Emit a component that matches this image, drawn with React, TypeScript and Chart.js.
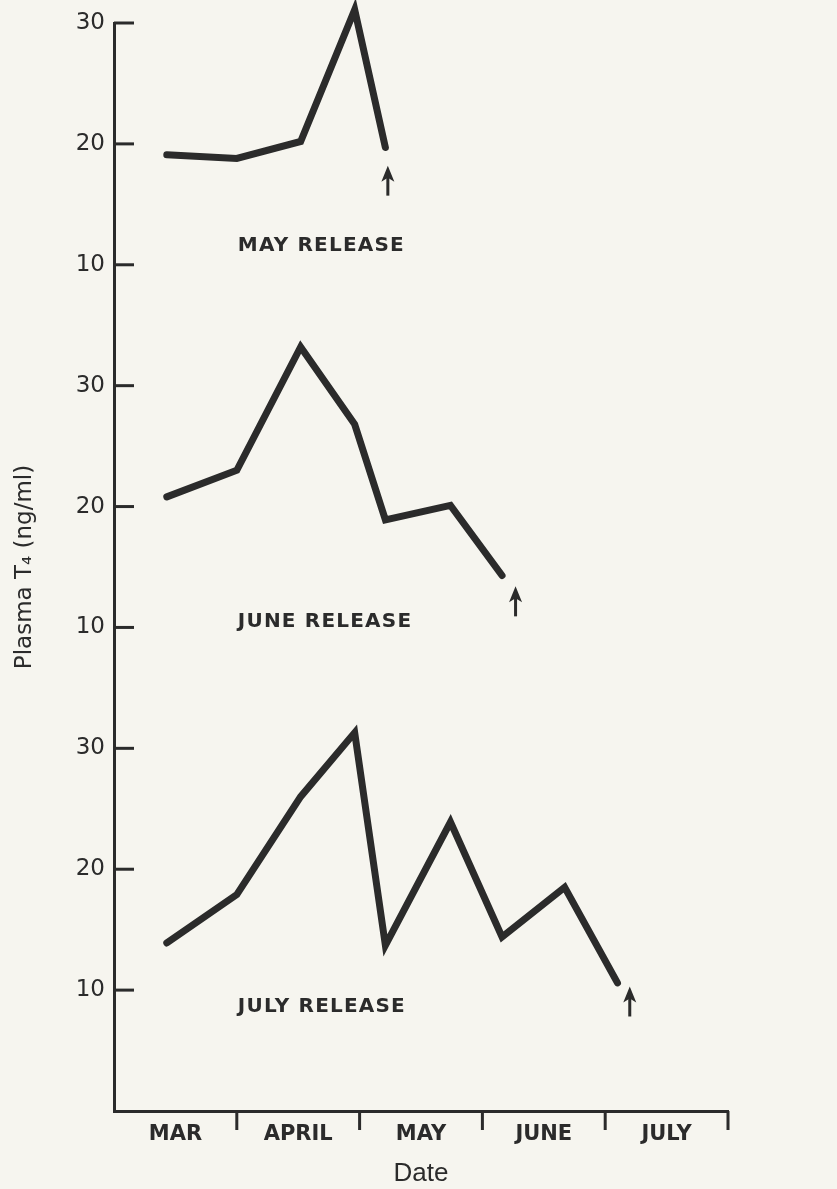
import { useEffect, useRef } from 'react';
import { Chart, registerables } from 'chart.js';

Chart.register(...registerables);

// ---- data ----
const monthLabels = ['MAR', 'APRIL', 'MAY', 'JUNE', 'JULY'];
// sampling dates, expressed in months since 1 March
const sampleMonths = [0.43, 1.0, 1.52, 1.96, 2.21, 2.74, 3.16, 3.67, 4.1];
const mayRelease = [19.1, 18.8, 20.2, 31.1, 19.7];
const juneRelease = [20.8, 23.0, 33.2, 26.8, 18.9, 20.1, 14.3];
const julyRelease = [13.9, 17.9, 26.0, 31.3, 13.7, 23.9, 14.4, 18.5, 10.6];
const groupNames = ['MAY RELEASE', 'JUNE RELEASE', 'JULY RELEASE'];
const groupOffsets = [60, 30, 0]; // stacked panels share one axis
const releaseMonths = [2.23, 3.27, 4.2];
const arrowTipValues = [18.2, 13.4, 10.3];
const labelValues = [11.6, 10.5, 8.6];
const yTickLabels = ['10', '20', '30'];
const yTitle = 'Plasma T\u2084 (ng/ml)';
const xTitle = 'Date';

const INK = '#2b2b2b';
const BG = '#f6f5ef';

const seriesList = [mayRelease, juneRelease, julyRelease];

const decor = {
  id: 'decor',
  beforeDraw(chart: any) {
    const { ctx, width, height } = chart;
    ctx.save();
    ctx.fillStyle = BG;
    ctx.fillRect(0, 0, width, height);
    ctx.restore();
  },
  afterDraw(chart: any) {
    const { ctx, chartArea, scales } = chart;
    const x = scales.x;
    const y = scales.y;
    ctx.save();
    ctx.strokeStyle = INK;
    ctx.fillStyle = INK;
    ctx.lineWidth = 3;
    ctx.lineCap = 'butt';
    // inward tick marks on the value axis
    y.ticks.forEach((t: any) => {
      if (t.value === 0) return;
      const py = y.getPixelForValue(t.value);
      ctx.beginPath();
      ctx.moveTo(chartArea.left, py);
      ctx.lineTo(chartArea.left + 20, py);
      ctx.stroke();
    });
    // month separators below the date axis
    for (let m = 1; m <= monthLabels.length; m++) {
      const px = x.getPixelForValue(m);
      ctx.beginPath();
      ctx.moveTo(px, chartArea.bottom);
      ctx.lineTo(px, chartArea.bottom + 19);
      ctx.stroke();
    }
    // group labels
    ctx.font = 'bold 20px "DejaVu Sans"';
    (ctx as any).letterSpacing = '1.2px';
    ctx.textAlign = 'left';
    ctx.textBaseline = 'middle';
    groupNames.forEach((name, i) => {
      ctx.fillText(name, x.getPixelForValue(1) + 1, y.getPixelForValue(labelValues[i] + groupOffsets[i]));
    });
    (ctx as any).letterSpacing = '0px';
    // release arrows
    releaseMonths.forEach((m, i) => {
      const px = x.getPixelForValue(m);
      const tip = y.getPixelForValue(arrowTipValues[i] + groupOffsets[i]);
      ctx.lineWidth = 3;
      ctx.beginPath();
      ctx.moveTo(px, tip + 8);
      ctx.lineTo(px, tip + 30);
      ctx.stroke();
      ctx.beginPath();
      ctx.moveTo(px, tip);
      ctx.lineTo(px + 6.5, tip + 16);
      ctx.lineTo(px, tip + 12);
      ctx.lineTo(px - 6.5, tip + 16);
      ctx.closePath();
      ctx.fill();
    });
    ctx.restore();
  },
};

export default function App() {
  const canvasRef = useRef<HTMLCanvasElement | null>(null);

  useEffect(() => {
    document.body.style.margin = '0';
    document.body.style.background = BG;
    const canvas = canvasRef.current;
    if (!canvas) return;
    const chart = new Chart(canvas, {
      type: 'line',
      data: {
        datasets: seriesList.map((vals, g) => ({
          label: groupNames[g],
          data: vals.map((v, i) => ({ x: sampleMonths[i], y: v + groupOffsets[g] })),
          borderColor: INK,
          borderWidth: 7,
          borderJoinStyle: 'miter' as const,
          borderCapStyle: 'round' as const,
          pointRadius: 0,
          tension: 0,
          fill: false,
          clip: false as any,
        })),
      },
      options: {
        animation: false,
        responsive: true,
        maintainAspectRatio: false,
        layout: { padding: { top: 23, right: 109, left: 0, bottom: 0 } },
        plugins: { legend: { display: false }, tooltip: { enabled: false } },
        scales: {
          x: {
            type: 'linear',
            min: 0,
            max: monthLabels.length,
            afterBuildTicks: (scale: any) => {
              scale.ticks = monthLabels.map((_, i) => ({ value: i + 0.5 }));
            },
            afterFit: (scale: any) => {
              scale.height = 78;
            },
            grid: { display: false, drawTicks: false },
            border: { display: true, color: INK, width: 3 },
            ticks: {
              autoSkip: false,
              maxRotation: 0,
              padding: 11,
              color: INK,
              font: { family: '"DejaVu Sans"', size: 21, weight: 'bold' },
              callback: (_v: any, index: number) => monthLabels[index],
            },
            title: {
              display: true,
              text: xTitle,
              color: INK,
              font: { family: '"Liberation Sans"', size: 26 },
              padding: { top: 0, bottom: 0 },
            },
          },
          y: {
            type: 'linear',
            min: 0,
            max: 90,
            afterFit: (scale: any) => {
              scale.width = 114;
            },
            grid: { display: false, drawTicks: false },
            border: { display: true, color: INK, width: 3 },
            ticks: {
              stepSize: 10,
              padding: 9,
              color: INK,
              font: { family: '"DejaVu Sans"', size: 23 },
              callback: (v: any) => (v === 0 ? '' : yTickLabels[(Math.round(v / 10) - 1) % 3]),
            },
            title: {
              display: true,
              text: yTitle,
              color: INK,
              font: { family: '"DejaVu Sans"', size: 23 },
              padding: { top: 11, bottom: 0 },
            },
          },
        },
      },
      plugins: [decor],
    });
    return () => chart.destroy();
  }, []);

  return (
    <div style={{ position: 'relative', width: 837, height: 1189, background: BG }}>
      <canvas ref={canvasRef} />
    </div>
  );
}
